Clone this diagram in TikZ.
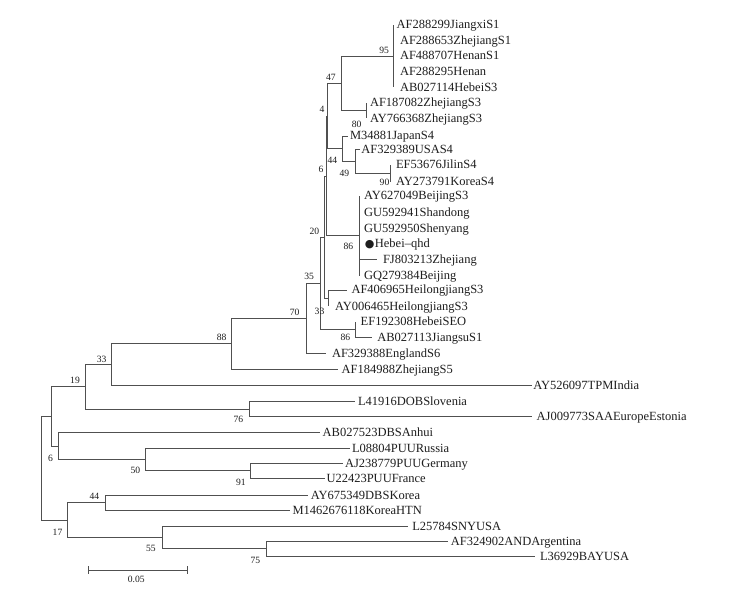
\documentclass[tikz,border=0pt]{standalone}
\usepackage{fontspec}
\setmainfont{Liberation Serif}
\newfontfamily\dejavu{DejaVu Sans}
\definecolor{brc}{HTML}{505050}
\definecolor{txc}{HTML}{1E1E1E}
\tikzset{
  br/.style={draw=brc, line width=0.9pt},
  leaf/.style={anchor=west, inner ysep=0pt, outer sep=0pt, text=txc,
    font=\fontsize{12.5}{13}\selectfont, text height=8pt, text depth=0pt},
  boot/.style={inner sep=0pt, text=txc, font=\fontsize{9.6}{10}\selectfont}
}
\begin{document}
\begin{tikzpicture}[x=1pt,y=-1pt]
\useasboundingbox[fill=white] (0,0) rectangle (734,596);
% internal nodes
\coordinate (n95) at (393.3,56.2);
\coordinate (n80) at (366.7,110.5);
\coordinate (n47) at (341.7,83.4);
\coordinate (n90) at (390,173.3);
\coordinate (n49) at (355,161.3);
\coordinate (n44) at (342.7,148.7);
\coordinate (n4) at (327.3,116);
\coordinate (n86) at (359.3,235.9);
\coordinate (n6) at (326,176);
\coordinate (n33) at (328.3,298);
\coordinate (n20) at (324.3,237);
\coordinate (n86b) at (355,329.7);
\coordinate (n35) at (320.5,283.3);
\coordinate (n70) at (306,318);
\coordinate (n88) at (231.7,343.7);
\coordinate (n33b) at (111.7,364.6);
\coordinate (n76) at (249.3,409.2);
\coordinate (n19) at (85.7,386.9);
\coordinate (n91) at (250.7,470.8);
\coordinate (n50) at (145.7,459.5);
\coordinate (n6b) at (58.3,446.1);
\coordinate (nU) at (51.7,416.5);
\coordinate (n44b) at (105,502.8);
\coordinate (n75) at (266.7,548.8);
\coordinate (n55) at (162.3,537.4);
\coordinate (n17) at (67.7,520.1);
\coordinate (root) at (41,468.3);
% leaves
\node[leaf, inner xsep=3.4pt] (l1) at (393.3,25) {AF288299JiangxiS1};
\node[leaf, inner xsep=6.7pt] (l2) at (393.3,40.7) {AF288653ZhejiangS1};
\node[leaf, inner xsep=6.7pt] (l3) at (393.3,56) {AF488707HenanS1};
\node[leaf, inner xsep=6.7pt] (l4) at (393.3,71.7) {AF288295Henan};
\node[leaf, inner xsep=6.7pt] (l5) at (393.3,87.3) {AB027114HebeiS3};
\node[leaf, inner xsep=3.3pt] (l6) at (366.7,102.7) {AF187082ZhejiangS3};
\node[leaf, inner xsep=3.3pt] (l7) at (366.7,118.3) {AY766368ZhejiangS3};
\node[leaf, inner xsep=1.7pt] (l8) at (348.3,136) {M34881JapanS4};
\node[leaf, inner xsep=1.3pt] (l9) at (360,149.3) {AF329389USAS4};
\node[leaf, inner xsep=6pt] (l10) at (390,165) {EF53676JilinS4};
\node[leaf, inner xsep=6pt] (l11) at (390,181.7) {AY273791KoreaS4};
\node[leaf, inner xsep=4.7pt] (l12) at (359.3,196) {AY627049BeijingS3};
\node[leaf, inner xsep=4.7pt] (l13) at (359.3,212.3) {GU592941Shandong};
\node[leaf, inner xsep=4.7pt] (l14) at (359.3,228.3) {GU592950Shenyang};
\node[leaf, inner xsep=5.5pt] (l15) at (359.3,243.3) {{\dejavu\fontsize{11}{12}\selectfont ●}\kern0.5pt Hebei–qhd};
\node[leaf, inner xsep=6pt] (l16) at (377,259.3) {FJ803213Zhejiang};
\node[leaf, inner xsep=4.7pt] (l17) at (359.3,275.7) {GQ279384Beijing};
\node[leaf, inner xsep=5pt] (l18) at (346.5,290) {AF406965HeilongjiangS3};
\node[leaf, inner xsep=6.7pt] (l19) at (328.3,306) {AY006465HeilongjiangS3};
\node[leaf, inner xsep=5.7pt] (l20) at (355,321.7) {EF192308HebeiSEO};
\node[leaf, inner xsep=5.6pt] (l21) at (371.7,337.7) {AB027113JiangsuS1};
\node[leaf, inner xsep=6pt] (l22) at (326,353) {AF329388EnglandS6};
\node[leaf, inner xsep=3.4pt] (l23) at (338.3,369.3) {AF184988ZhejiangS5};
\node[leaf, inner xsep=1.6pt] (l24) at (531.7,385.5) {AY526097TPMIndia};
\node[leaf, inner xsep=3pt] (l25) at (355,401.7) {L41916DOBSlovenia};
\node[leaf, inner xsep=4.4pt] (l26) at (532.3,416.7) {AJ009773SAAEuropeEstonia};
\node[leaf, inner xsep=2.7pt] (l27) at (320,432.7) {AB027523DBSAnhui};
\node[leaf, inner xsep=2pt] (l28) at (350,448.3) {L08804PUURussia};
\node[leaf, inner xsep=1.7pt] (l29) at (343.3,463.3) {AJ238779PUUGermany};
\node[leaf, inner xsep=1.5pt] (l30) at (325,478.3) {U22423PUUFrance};
\node[leaf, inner xsep=2.5pt] (l31) at (308.3,495) {AY675349DBSKorea};
\node[leaf, inner xsep=2.5pt] (l32) at (290,510.7) {M1462676118KoreaHTN};
\node[leaf, inner xsep=4pt] (l33) at (408.3,526) {L25784SNYUSA};
\node[leaf, inner xsep=2.5pt] (l34) at (448.3,541) {AF324902ANDArgentina};
\node[leaf, inner xsep=5pt] (l35) at (535,556.7) {L36929BAYUSA};
% branches
\foreach \c in {l1,l2,l3,l4,l5} \draw[br] (n95) |- (\c.west);
\draw[br] (n80) |- (l6.west);
\draw[br] (n80) |- (l7.west);
\draw[br] (n47) |- (n95);
\draw[br] (n47) |- (n80);
\draw[br] (n90) |- (l10.west);
\draw[br] (n90) |- (l11.west);
\draw[br] (n49) |- (l9.west);
\draw[br] (n49) |- (n90);
\draw[br] (n44) |- (l8.west);
\draw[br] (n44) |- (n49);
\draw[br] (n4) |- (n47);
\draw[br] (n4) |- (n44);
\foreach \c in {l12,l13,l14,l15,l16,l17} \draw[br] (n86) |- (\c.west);
\draw[br] (n6) |- (n4);
\draw[br] (n6) |- (n86);
\draw[br] (n33) |- (l18.west);
\draw[br] (n33) |- (l19.west);
\draw[br] (n20) |- (n6);
\draw[br] (n20) |- (n33);
\draw[br] (n86b) |- (l20.west);
\draw[br] (n86b) |- (l21.west);
\draw[br] (n35) |- (n20);
\draw[br] (n35) |- (n86b);
\draw[br] (n70) |- (n35);
\draw[br] (n70) |- (l22.west);
\draw[br] (n88) |- (n70);
\draw[br] (n88) |- (l23.west);
\draw[br] (n33b) |- (n88);
\draw[br] (n33b) |- (l24.west);
\draw[br] (n76) |- (l25.west);
\draw[br] (n76) |- (l26.west);
\draw[br] (n19) |- (n33b);
\draw[br] (n19) |- (n76);
\draw[br] (n91) |- (l29.west);
\draw[br] (n91) |- (l30.west);
\draw[br] (n50) |- (l28.west);
\draw[br] (n50) |- (n91);
\draw[br] (n6b) |- (l27.west);
\draw[br] (n6b) |- (n50);
\draw[br] (nU) |- (n19);
\draw[br] (nU) |- (n6b);
\draw[br] (n44b) |- (l31.west);
\draw[br] (n44b) |- (l32.west);
\draw[br] (n75) |- (l34.west);
\draw[br] (n75) |- (l35.west);
\draw[br] (n55) |- (l33.west);
\draw[br] (n55) |- (n75);
\draw[br] (n17) |- (n44b);
\draw[br] (n17) |- (n55);
\draw[br] (root) |- (nU);
\draw[br] (root) |- (n17);
% bootstrap values
\node[boot] (b95) at (384.2,50) {95};
\node[boot] (b47) at (330.8,77.7) {47};
\node[boot] (b4) at (322,109.3) {4};
\node[boot] (b80) at (356.7,124.7) {80};
\node[boot] (b44) at (332.3,160.7) {44};
\node[boot] (b49) at (344.3,173.3) {49};
\node[boot] (b90) at (384.5,182.8) {90};
\node[boot] (b6) at (321,169.3) {6};
\node[boot] (b86) at (348.3,246.7) {86};
\node[boot] (b20) at (314.3,231.7) {20};
\node[boot] (b35) at (309.2,276.7) {35};
\node[boot] (b70) at (294.7,312.5) {70};
\node[boot] (b33) at (319.5,311.3) {33};
\node[boot] (b86b) at (345.3,337.5) {86};
\node[boot] (b88) at (221.7,337.7) {88};
\node[boot] (b33b) at (101.7,359.2) {33};
\node[boot] (b19) at (75,380.7) {19};
\node[boot] (b76) at (238.3,419.3) {76};
\node[boot] (b6b) at (50.5,458.3) {6};
\node[boot] (b50) at (135.3,470.7) {50};
\node[boot] (b91) at (240.8,482.7) {91};
\node[boot] (b44b) at (94.3,496) {44};
\node[boot] (b17) at (57.5,532.7) {17};
\node[boot] (b55) at (150.8,548.7) {55};
\node[boot] (b75) at (255.3,560) {75};
% scale bar
\coordinate (sbL) at (88.3,570);
\coordinate (sbR) at (187.3,570);
\draw[br] (sbL) -- (sbR);
\draw[br] ([yshift=-3.7pt]sbL) -- ([yshift=3.7pt]sbL);
\draw[br] ([yshift=-3.7pt]sbR) -- ([yshift=3.7pt]sbR);
\node[boot] (sbt) at (136.3,579.3) {0.05};
\end{tikzpicture}
\end{document}
